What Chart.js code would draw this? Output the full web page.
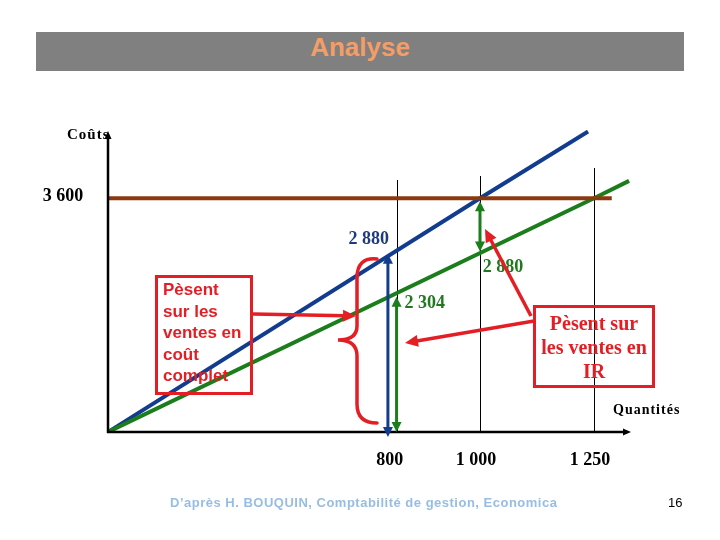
<!DOCTYPE html>
<html>
<head>
<meta charset="utf-8">
<script src="https://cdn.jsdelivr.net/npm/chart.js@4"></script>
<style>
  body { margin: 0; background: #fff; }
  #wrap { position: relative; width: 720px; height: 540px; overflow: hidden; }
  #wrap canvas { position: absolute; left: 0; top: 0; }
  .txt { position: absolute; pointer-events: none; white-space: nowrap; }
  #title { left: 36px; top: 32px; width: 648px; height: 39px; line-height: 39px; background: #808080;
           text-align: center; color: #f59d66; font: bold 26px "Liberation Sans", Arial, sans-serif; }
  #couts { left: 67px; top: 125px; font: bold 15px "Liberation Serif", serif; letter-spacing: 1px; line-height: 18px; }
  #qte { left: 613px; top: 401px; font: bold 14px "Liberation Serif", serif; letter-spacing: 1px; line-height: 18px; }
  #boxL { left: 155px; top: 275px; width: 98px; height: 120px; box-sizing: border-box; border: 3px solid #e31e24;
          padding: 1px 0 0 5px; color: #e31e24; font: bold 17px "Liberation Sans", Arial, sans-serif; line-height: 21.5px; white-space: normal; }
  #boxR { left: 533px; top: 305px; width: 122px; height: 83px; box-sizing: border-box; border: 3px solid #e31e24;
          padding-top: 3px; text-align: center; color: #e31e24; font: bold 20px "Liberation Serif", serif; line-height: 24px; }
  #foot { left: 170px; top: 494px; color: #98bde3; font: bold 13px "Liberation Sans", Arial, sans-serif; line-height: 18px; letter-spacing: 0.5px; }
  #page { left: 668px; top: 494px; font: 13px "Liberation Sans", Arial, sans-serif; line-height: 18px; }
</style>
</head>
<body>
<div id="wrap">
  <canvas id="chart" width="720" height="540"></canvas>
  <div class="txt" id="title">Analyse</div>
  <div class="txt" id="couts">Coûts</div>
  <div class="txt" id="qte">Quantités</div>
  <div class="txt" id="boxL">Pèsent<br>sur les<br>ventes en<br>coût<br>complet</div>
  <div class="txt" id="boxR">Pèsent sur<br>les ventes en<br>IR</div>
  <div class="txt" id="foot">D’après H. BOUQUIN, Comptabilité de gestion, Economica</div>
  <div class="txt" id="page">16</div>
</div>
<script>
// --- Data ---
const tickQ = [800, 1000, 1250];
const tickLabels = ['800', '1 000', '1 250'];
const guideQ = [817, 1000, 1250];

const blueQ = [184, 1000, 1237];        // coût complet
const blueCost = [520, 3600, 4480];
const greenQ = [184, 1250, 1327];       // coût variable (IR)
const greenCost = [520, 3600, 3830];
const fixedQ = [184, 1289];             // charges fixes
const fixedCost = [3600, 3600];

const costLabel = '3 600';
const blueLabel = '2 880';
const greenLabels = ['2 880', '2 304'];

const BLUE = '#123d8f', GREEN = '#1b7d1b', BROWN = '#8b3a10', RED = '#e31e24';

function toPoints(xs, ys) {
    return xs.map((v, i) => ({ x: v, y: ys[i] }));
}

function arrow(ctx, x1, y1, x2, y2, color, w, both, len, half) {
    const ang = Math.atan2(y2 - y1, x2 - x1);
    const head = (x, y, a) => {
        ctx.beginPath();
        ctx.moveTo(x, y);
        ctx.lineTo(x - len * Math.cos(a) + half * Math.sin(a), y - len * Math.sin(a) - half * Math.cos(a));
        ctx.lineTo(x - len * Math.cos(a) - half * Math.sin(a), y - len * Math.sin(a) + half * Math.cos(a));
        ctx.closePath();
        ctx.fill();
    };
    ctx.save();
    ctx.strokeStyle = color;
    ctx.fillStyle = color;
    ctx.lineWidth = w;
    ctx.beginPath();
    ctx.moveTo(x1 + (both ? len * 0.8 * Math.cos(ang) : 0), y1 + (both ? len * 0.8 * Math.sin(ang) : 0));
    ctx.lineTo(x2 - len * 0.8 * Math.cos(ang), y2 - len * 0.8 * Math.sin(ang));
    ctx.stroke();
    head(x2, y2, ang);
    if (both) head(x1, y1, ang + Math.PI);
    ctx.restore();
}

// --- Guide lines (under the datasets) ---
const guides = {
    id: 'guides',
    beforeDatasetsDraw(chart) {
        const { ctx, scales: { x }, chartArea: a } = chart;
        const tops = [180, 176, 168];
        ctx.save();
        ctx.strokeStyle = '#000';
        ctx.lineWidth = 1;
        guideQ.forEach((q, i) => {
            const px = Math.round(x.getPixelForValue(q)) + 0.5;
            ctx.beginPath();
            ctx.moveTo(px, tops[i]);
            ctx.lineTo(px, a.bottom);
            ctx.stroke();
        });
        ctx.restore();
    }
};

// --- Axes, labels and annotations ---
const overlay = {
    id: 'overlay',
    afterDatasetsDraw(chart) {
        const { ctx, scales: { x, y }, chartArea: a } = chart;
        const ox = a.left, oy = a.bottom;

        // axes
        ctx.save();
        ctx.strokeStyle = '#000';
        ctx.fillStyle = '#000';
        ctx.lineWidth = 2.5;
        ctx.beginPath();
        ctx.moveTo(ox, oy + 1);
        ctx.lineTo(ox, 136);
        ctx.moveTo(ox - 1, oy);
        ctx.lineTo(626, oy);
        ctx.stroke();
        ctx.beginPath();
        ctx.moveTo(ox, 131); ctx.lineTo(ox - 3.5, 139); ctx.lineTo(ox + 3.5, 139); ctx.closePath(); ctx.fill();
        ctx.beginPath();
        ctx.moveTo(631, oy); ctx.lineTo(623, oy - 3.5); ctx.lineTo(623, oy + 3.5); ctx.closePath(); ctx.fill();

        // tick labels
        ctx.font = 'bold 18px "Liberation Serif", serif';
        ctx.textAlign = 'center';
        ctx.textBaseline = 'middle';
        tickQ.forEach((q, i) => ctx.fillText(tickLabels[i], x.getPixelForValue(q) + (i ? -4 : 1), 460));
        ctx.fillText(costLabel, 63, y.getPixelForValue(3600) - 2);

        // value labels
        ctx.fillStyle = '#1f3b7d';
        ctx.fillText(blueLabel, x.getPixelForValue(800) - 20, 239);
        ctx.fillStyle = '#1f7a1f';
        ctx.fillText(greenLabels[0], x.getPixelForValue(1000) + 23, 267);
        ctx.fillText(greenLabels[1], x.getPixelForValue(800) + 36, 303);
        ctx.restore();

        // vertical double arrows
        const x800 = x.getPixelForValue(798), x817 = x.getPixelForValue(817), x1000 = x.getPixelForValue(1000);
        arrow(ctx, x800, y.getPixelForValue(2870), x800, oy + 5, BLUE, 3, true, 10, 5);
        arrow(ctx, x817, y.getPixelForValue(2304), x817, oy, GREEN, 3, true, 10, 5);
        arrow(ctx, x1000, y.getPixelForValue(3560), x1000, y.getPixelForValue(2900), GREEN, 3, true, 10, 5);

        // red brace
        ctx.save();
        ctx.strokeStyle = RED;
        ctx.lineWidth = 3.5;
        ctx.lineCap = 'round';
        ctx.beginPath();
        ctx.moveTo(377, 259);
        ctx.quadraticCurveTo(357, 257, 357, 278);
        ctx.lineTo(357, 326);
        ctx.quadraticCurveTo(357, 340, 338, 340);
        ctx.quadraticCurveTo(357, 340, 357, 356);
        ctx.lineTo(357, 404);
        ctx.quadraticCurveTo(357, 423, 377, 423);
        ctx.stroke();
        ctx.restore();

        // red arrows
        arrow(ctx, 253, 314, 356, 316, RED, 3.5, false, 13, 6);
        arrow(ctx, 534, 321, 405, 343, RED, 3.5, false, 13, 6);
        arrow(ctx, 531, 316, 485, 229, RED, 3.5, false, 13, 6);
    }
};

new Chart(document.getElementById('chart'), {
    type: 'scatter',
    data: {
        datasets: [
            { data: toPoints(fixedQ, fixedCost), borderColor: BROWN, borderWidth: 4, showLine: true, pointRadius: 0 },
            { data: toPoints(greenQ, greenCost), borderColor: GREEN, borderWidth: 4, showLine: true, pointRadius: 0 },
            { data: toPoints(blueQ, blueCost), borderColor: BLUE, borderWidth: 4, showLine: true, pointRadius: 0 }
        ]
    },
    options: {
        responsive: false,
        animation: false,
        devicePixelRatio: 1,
        layout: { padding: { left: 108, right: 85, top: 130, bottom: 108 } },
        scales: {
            x: { type: 'linear', min: 184, max: 1340, display: false },
            y: { type: 'linear', min: 520, max: 4500, display: false }
        },
        plugins: { legend: { display: false }, tooltip: { enabled: false } }
    },
    plugins: [guides, overlay]
});
</script>
</body>
</html>
